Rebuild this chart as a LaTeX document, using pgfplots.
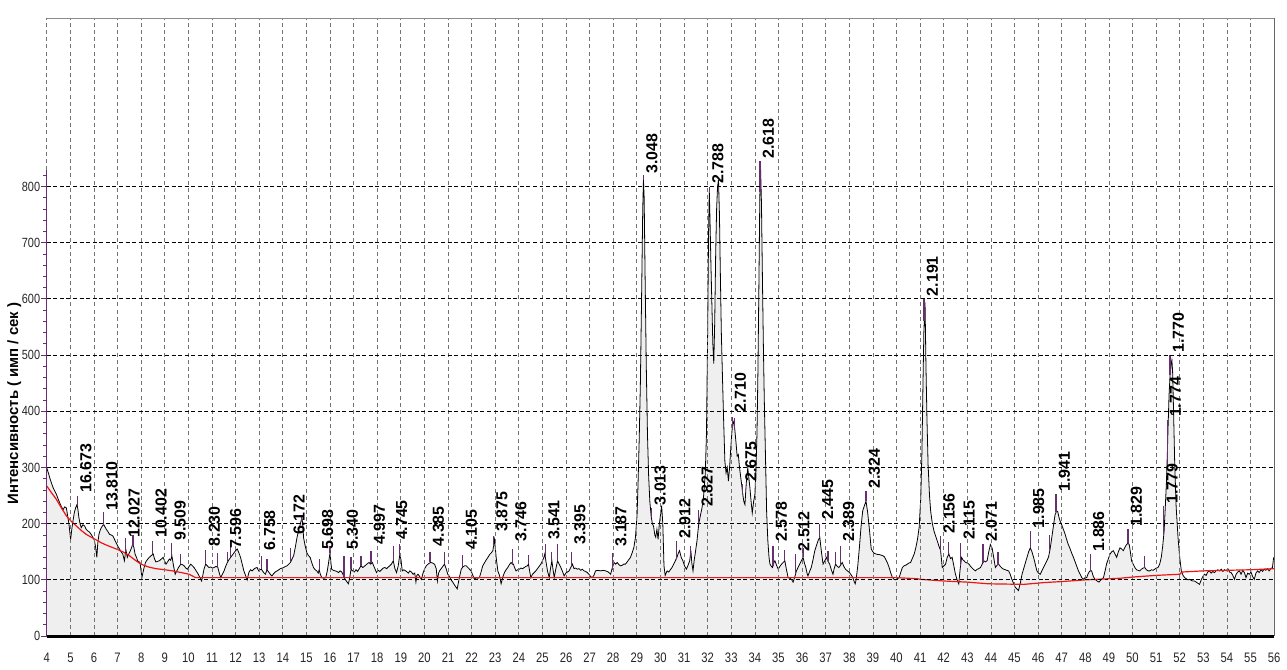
\documentclass[border=0pt]{standalone}
\usepackage{fontspec}
\setmainfont{Liberation Sans}
\newfontfamily\narrowfont[FakeStretch=0.82]{Liberation Sans}
\usepackage{pgfplots}
\usepackage{pgfplotstable}
\pgfplotsset{compat=1.18}

\definecolor{fillgray}{RGB}{239,239,239}
\definecolor{tickpurple}{RGB}{104,46,112}
\definecolor{basered}{RGB}{238,20,20}

% measured spectrum: 2theta, counts
\pgfplotstableread{
x y
4.00 299
4.07 290
4.13 281
4.20 272
4.27 264
4.34 258
4.41 252
4.48 244
4.55 237
4.62 230
4.69 225
4.76 230
4.83 228
4.88 215
4.94 199
5.01 172
5.06 190
5.11 205
5.17 220
5.22 228
5.28 234
5.32 225
5.36 211
5.41 200
5.46 193
5.53 198
5.60 196
5.67 190
5.74 187
5.81 185
5.88 181
5.95 176
6.02 170
6.07 158
6.12 140
6.16 165
6.21 181
6.26 188
6.31 193
6.36 196
6.41 199
6.47 194
6.52 190
6.59 186
6.66 181
6.73 180
6.80 178
6.87 172
6.94 166
7.01 160
7.08 155
7.15 150
7.22 146
7.29 134
7.33 148
7.36 152
7.41 140
7.47 146
7.52 150
7.57 155
7.64 163
7.69 158
7.74 146
7.80 140
7.85 134
7.95 131
8.03 104
8.10 118
8.18 131
8.26 136
8.34 140
8.42 143
8.51 146
8.56 138
8.62 132
8.70 133
8.77 134
8.85 137
8.93 140
9.00 133
9.05 128
9.12 132
9.19 137
9.25 135
9.30 143
9.37 125
9.44 110
9.51 116
9.58 122
9.63 125
9.68 128
9.75 127
9.82 125
9.89 121
9.96 119
10.03 124
10.10 128
10.17 125
10.24 122
10.33 116
10.42 110
10.49 104
10.56 98
10.61 108
10.66 119
10.73 128
10.80 125
10.87 122
10.95 123
11.02 121
11.09 122
11.17 124
11.25 122
11.31 112
11.37 104
11.44 110
11.51 116
11.58 124
11.65 131
11.72 136
11.79 140
11.86 144
11.93 148
12.00 152
12.07 155
12.14 148
12.21 140
12.28 128
12.35 116
12.42 108
12.49 100
12.56 113
12.63 118
12.70 116
12.77 119
12.84 121
12.91 122
12.98 116
13.04 118
13.09 119
13.14 116
13.19 113
13.26 110
13.33 118
13.40 114
13.47 110
13.54 107
13.61 111
13.68 114
13.76 116
13.83 118
13.90 120
13.97 121
14.04 122
14.11 124
14.18 125
14.25 128
14.32 131
14.39 137
14.46 143
14.53 158
14.60 175
14.67 188
14.74 199
14.81 211
14.85 196
14.88 175
14.95 160
15.02 148
15.09 143
15.16 140
15.23 130
15.30 122
15.37 118
15.44 116
15.50 112
15.54 118
15.59 110
15.65 104
15.74 103
15.82 104
15.88 115
15.93 128
16.00 148
16.04 130
16.07 119
16.14 117
16.22 116
16.29 115
16.36 113
16.43 116
16.50 114
16.57 108
16.64 101
16.71 97
16.78 93
16.84 105
16.89 119
16.96 116
17.03 114
17.10 118
17.17 115
17.24 120
17.31 125
17.39 122
17.48 125
17.56 128
17.65 131
17.72 128
17.79 131
17.88 122
17.97 113
18.04 117
18.11 115
18.18 118
18.25 121
18.32 122
18.40 120
18.47 123
18.53 125
18.60 128
18.68 134
18.75 120
18.82 113
18.89 125
18.96 146
19.01 135
19.06 116
19.13 118
19.24 115
19.32 112
19.38 116
19.45 114
19.52 110
19.59 112
19.64 96
19.68 108
19.73 110
19.80 106
19.87 101
19.94 112
20.01 120
20.08 125
20.15 128
20.26 131
20.34 130
20.43 128
20.50 120
20.55 98
20.60 112
20.64 116
20.71 120
20.78 124
20.85 128
20.92 120
20.99 110
21.06 106
21.13 100
21.20 96
21.29 90
21.39 84
21.46 100
21.56 119
21.63 123
21.70 125
21.77 125
21.84 122
21.91 119
21.98 116
22.05 108
22.12 101
22.19 104
22.26 103
22.33 104
22.40 114
22.47 125
22.54 130
22.61 135
22.69 140
22.76 145
22.83 148
22.90 152
22.97 172
23.04 140
23.11 116
23.18 108
23.25 93
23.32 105
23.39 113
23.46 118
23.53 122
23.60 127
23.67 131
23.73 128
23.77 128
23.82 122
23.88 116
23.95 118
24.02 119
24.09 121
24.16 120
24.23 122
24.30 124
24.36 125
24.41 128
24.46 115
24.51 104
24.58 110
24.65 113
24.72 116
24.79 120
24.86 124
24.93 128
25.00 134
25.06 140
25.10 146
25.16 130
25.22 115
25.29 104
25.34 120
25.40 134
25.45 118
25.50 104
25.56 118
25.64 134
25.71 128
25.78 122
25.85 115
25.92 107
25.99 112
26.06 114
26.13 116
26.20 122
26.27 128
26.34 120
26.41 121
26.48 119
26.55 120
26.62 117
26.69 119
26.76 116
26.83 115
26.90 113
26.97 110
27.04 106
27.11 104
27.18 108
27.25 116
27.35 117
27.46 116
27.57 117
27.68 116
27.79 114
27.89 110
27.95 120
28.03 131
28.10 128
28.17 131
28.24 127
28.31 125
28.38 126
28.45 128
28.52 128
28.59 132
28.66 136
28.73 140
28.80 148
28.87 157
28.94 175
29.01 216
29.05 270
29.10 350
29.15 450
29.20 600
29.25 760
29.28 812
29.31 780
29.35 640
29.40 480
29.45 360
29.50 285
29.55 240
29.61 212
29.66 200
29.71 195
29.76 180
29.80 176
29.85 190
29.90 172
29.95 198
30.00 215
30.05 232
30.10 200
30.15 125
30.20 108
30.28 116
30.35 114
30.42 118
30.49 122
30.56 128
30.63 134
30.70 140
30.76 148
30.81 152
30.88 140
30.95 134
31.02 125
31.10 119
31.17 126
31.24 134
31.29 152
31.33 130
31.38 116
31.43 135
31.47 146
31.55 170
31.62 199
31.69 214
31.76 228
31.83 250
31.90 290
31.95 360
32.00 540
32.04 720
32.07 792
32.10 740
32.14 660
32.18 590
32.22 520
32.26 485
32.30 560
32.34 680
32.38 760
32.42 800
32.46 812
32.50 750
32.54 640
32.58 540
32.63 458
32.68 380
32.73 311
32.78 290
32.83 300
32.88 276
32.93 300
32.98 335
33.03 365
33.07 378
33.11 382
33.15 368
33.20 345
33.25 320
33.30 323
33.35 300
33.40 283
33.44 270
33.49 252
33.53 240
33.58 234
33.62 262
33.65 280
33.70 299
33.75 280
33.79 264
33.84 240
33.89 219
33.95 240
34.00 251
34.05 300
34.09 360
34.13 470
34.17 620
34.21 780
34.24 836
34.28 770
34.32 640
34.36 520
34.40 420
34.45 320
34.50 220
34.55 170
34.60 140
34.64 128
34.70 124
34.75 122
34.80 130
34.85 134
34.92 126
34.99 119
35.06 124
35.13 128
35.20 131
35.27 134
35.34 118
35.41 104
35.48 103
35.55 101
35.62 96
35.69 105
35.76 116
35.83 122
35.90 128
35.97 134
36.04 140
36.10 130
36.16 122
36.21 112
36.25 107
36.32 115
36.39 122
36.46 135
36.54 152
36.61 161
36.68 170
36.75 176
36.82 150
36.89 128
36.96 134
37.03 140
37.10 133
37.17 128
37.24 118
37.31 110
37.36 120
37.42 128
37.49 124
37.56 122
37.63 126
37.70 131
37.77 124
37.84 119
37.92 116
38.01 113
38.08 109
38.15 104
38.20 98
38.25 93
38.29 100
38.36 125
38.43 158
38.50 195
38.57 223
38.64 232
38.71 240
38.78 220
38.86 187
38.93 155
39.00 150
39.07 147
39.14 146
39.21 145
39.28 145
39.35 144
39.42 143
39.49 141
39.55 136
39.62 130
39.69 122
39.76 112
39.83 104
39.90 101
39.97 100
40.04 102
40.11 104
40.18 113
40.25 122
40.32 125
40.39 126
40.46 128
40.53 130
40.60 131
40.67 138
40.75 146
40.82 157
40.89 172
40.96 193
41.03 246
41.08 330
41.12 440
41.16 540
41.21 594
41.25 480
41.29 390
41.34 305
41.40 250
41.45 222
41.52 200
41.59 187
41.66 178
41.73 169
41.80 160
41.87 152
41.94 122
42.01 125
42.08 128
42.15 140
42.22 146
42.29 138
42.36 140
42.43 125
42.50 110
42.57 100
42.64 93
42.70 120
42.76 140
42.81 136
42.86 134
42.93 131
43.00 130
43.07 128
43.14 124
43.21 121
43.28 118
43.35 116
43.42 119
43.49 120
43.56 122
43.63 128
43.70 134
43.77 132
43.84 134
43.91 150
43.98 163
44.05 157
44.12 140
44.19 122
44.26 126
44.33 128
44.40 124
44.47 121
44.54 119
44.61 118
44.68 117
44.75 116
44.82 110
44.89 101
44.96 94
45.03 87
45.10 84
45.17 81
45.25 95
45.32 110
45.39 120
45.46 130
45.53 140
45.60 150
45.67 157
45.74 150
45.81 140
45.88 128
45.95 116
46.02 112
46.09 110
46.16 116
46.23 122
46.30 128
46.37 134
46.44 140
46.51 155
46.58 175
46.65 196
46.72 216
46.78 222
46.83 222
46.88 212
46.93 205
47.00 198
47.07 190
47.14 182
47.21 172
47.28 163
47.35 156
47.42 148
47.50 140
47.57 132
47.64 124
47.71 116
47.78 110
47.85 104
47.92 101
47.99 104
48.06 104
48.13 112
48.20 116
48.27 116
48.34 106
48.41 101
48.50 98
48.58 96
48.66 100
48.77 104
48.84 116
48.90 128
48.98 138
49.05 146
49.12 150
49.19 152
49.26 146
49.33 140
49.40 150
49.47 157
49.54 155
49.61 152
49.68 158
49.75 163
49.81 165
49.86 163
49.91 150
49.96 134
50.03 128
50.10 122
50.17 118
50.24 117
50.31 116
50.38 119
50.45 121
50.52 122
50.59 118
50.66 116
50.73 116
50.80 118
50.87 117
50.94 119
51.01 121
51.08 122
51.15 128
51.22 140
51.28 160
51.34 187
51.39 230
51.44 275
51.48 330
51.51 376
51.55 430
51.60 470
51.64 485
51.67 491
51.70 470
51.74 400
51.79 305
51.85 230
51.93 175
52.00 140
52.07 116
52.14 108
52.21 104
52.28 102
52.35 100
52.42 101
52.49 99
52.56 98
52.63 98
52.70 96
52.77 94
52.84 92
52.91 100
52.98 106
53.05 110
53.12 108
53.19 114
53.26 116
53.33 112
53.40 115
53.47 113
53.54 116
53.61 118
53.69 116
53.76 119
53.83 115
53.90 118
53.97 116
54.04 120
54.11 114
54.18 113
54.25 108
54.32 101
54.39 110
54.46 114
54.53 116
54.60 110
54.67 117
54.74 113
54.81 104
54.88 112
54.95 110
55.02 114
55.09 106
55.16 101
55.23 112
55.30 116
55.37 113
55.44 118
55.51 115
55.58 119
55.65 117
55.72 120
55.79 116
55.86 120
55.93 122
55.98 140
}\spectrum

% background line
\pgfplotstableread{
x y
4.00 267
4.20 255
4.41 243
4.62 228
4.83 214
5.04 204
5.25 196
5.46 188
5.67 181
5.88 176
6.10 171
6.31 166
6.52 162
6.76 158
7.00 154
7.22 150
7.50 143
7.78 134
7.99 128
8.30 123
8.62 120
9.00 118
9.33 116
9.70 113
10.03 110
10.17 107
10.30 104
40.00 104
40.90 102
41.00 101
42.00 98
43.00 96
43.90 93
45.40 92
46.20 95
47.00 97
48.00 100
49.50 103
50.00 105
51.00 108
52.00 110
52.10 114
53.00 116
54.00 117
55.00 118
56.00 120
}\background

% peak markers: bottom and top of each stroke
\pgfplotstableread{
x y
5.30 232
5.30 250
nan nan
6.40 198
6.40 220
nan nan
7.34 150
7.34 175
nan nan
7.65 160
7.65 180
nan nan
8.49 146
8.49 170
nan nan
9.29 143
9.29 165
nan nan
9.68 128
9.68 146
nan nan
10.74 128
10.74 153
nan nan
11.25 122
11.25 148
nan nan
11.64 131
11.64 150
nan nan
11.80 140
11.80 160
nan nan
13.09 119
13.09 143
nan nan
13.33 118
13.33 138
nan nan
14.34 131
14.34 157
nan nan
14.78 205
14.78 215
nan nan
15.54 118
15.54 138
nan nan
16.00 148
16.00 160
nan nan
16.59 104
16.59 143
nan nan
16.89 119
16.89 140
nan nan
17.31 125
17.31 143
nan nan
17.74 130
17.74 152
nan nan
18.68 134
18.68 160
nan nan
18.96 146
18.96 163
nan nan
20.24 131
20.24 150
nan nan
20.85 128
20.85 150
nan nan
21.63 123
21.63 145
nan nan
22.93 160
22.93 178
nan nan
23.73 128
23.73 155
nan nan
24.41 128
24.41 145
nan nan
25.13 140
25.13 164
nan nan
25.40 134
25.40 150
nan nan
25.64 134
25.64 164
nan nan
26.23 125
26.23 150
nan nan
27.97 118
27.97 148
nan nan
29.28 812
29.28 820
nan nan
29.61 212
29.61 228
nan nan
30.68 138
30.68 170
nan nan
31.27 140
31.27 160
nan nan
31.62 199
31.62 225
nan nan
32.08 792
32.08 800
nan nan
33.05 370
33.05 390
nan nan
33.15 368
33.15 388
nan nan
33.49 252
33.49 270
nan nan
34.22 790
34.22 845
nan nan
34.77 124
34.77 160
nan nan
35.27 134
35.27 154
nan nan
35.72 110
35.72 146
nan nan
36.04 140
36.04 156
nan nan
36.73 174
36.73 200
nan nan
37.10 133
37.10 152
nan nan
37.42 128
37.42 150
nan nan
37.62 126
37.62 160
nan nan
38.71 240
38.71 258
nan nan
41.17 560
41.17 600
nan nan
41.87 152
41.87 178
nan nan
42.22 146
42.22 168
nan nan
42.72 125
42.72 166
nan nan
43.67 130
43.67 163
nan nan
44.30 127
44.30 150
nan nan
45.67 157
45.67 187
nan nan
46.50 153
46.50 180
nan nan
46.76 220
46.76 252
nan nan
48.21 116
48.21 146
nan nan
49.81 165
49.81 190
nan nan
50.52 122
50.52 143
nan nan
51.32 180
51.32 231
nan nan
51.47 300
51.47 385
nan nan
51.59 465
51.59 500
}\peakticks

% d-spacing labels: 2theta, bottom of label, text
\pgfplotstableread{
x y lab
5.30 250 16.673
6.40 219 13.810
7.34 170 12.027
8.49 170 10.402
9.29 165 9.509
10.74 155 8.230
11.64 150 7.596
13.09 148 6.758
14.34 175 6.172
15.54 149 5.698
16.59 149 5.340
17.74 158 4.997
18.68 166 4.745
20.24 155 4.385
21.63 149 4.105
22.93 181 3.875
23.73 163 3.746
25.13 166 3.541
26.23 158 3.395
27.97 155 3.187
29.28 818 3.048
29.63 228 3.013
30.68 169 2.912
31.62 225 2.827
32.08 800 2.788
33.03 393 2.710
33.47 270 2.675
34.22 845 2.618
34.77 163 2.578
35.72 146 2.512
36.73 202 2.445
37.62 163 2.389
38.71 258 2.324
41.17 600 2.191
41.87 178 2.156
42.72 166 2.115
43.67 163 2.071
45.67 187 1.985
46.76 252 1.941
48.21 146 1.886
49.81 190 1.829
51.32 231 1.779
51.47 385 1.774
51.59 500 1.770
}\peaklabels

\begin{document}
\begin{tikzpicture}
\begin{axis}[
    name=ax,
    scale only axis,
    width=616.5pt, height=310.5pt,
    xmin=4, xmax=56, ymin=0, ymax=1100,
    clip=false,
    axis on top,
    axis line style={draw=none},
    xtick={4,5,...,56},
    ytick={0,100,...,800},
    minor ytick={20,40,...,820},
    ytick pos=left, xtick pos=bottom,
    tick align=outside,
    major tick length=2.8pt, minor tick length=1.7pt,
    xtick style={draw=none},
    ytick style={tickpurple, line width=0.4pt},
    grid=major,
    x grid style={black!55, line width=0.35pt, dash pattern=on 2pt off 1.6pt},
    y grid style={black, line width=0.5pt, dash pattern=on 2pt off 1.3pt},
    /pgf/number format/assume math mode=true,
    xticklabel style={font=\narrowfont\fontsize{6.9}{7}\selectfont, text=black!85, yshift=-2pt},
    yticklabel style={font=\narrowfont\fontsize{6.7}{7}\selectfont, text=black!85, xshift=3pt},
    ylabel={Интенсивность ( имп / сек )},
    ylabel style={font=\bfseries\fontsize{7.5}{8}\selectfont,
        at={(axis description cs:-0.0265,0.376)}, anchor=center},
]
\addplot[draw=none, fill=fillgray, forget plot] table {\spectrum} \closedcycle;
\addplot[black, line width=0.4pt, forget plot] table {\spectrum};
\addplot[basered, line width=0.6pt, forget plot] table {\background};
\addplot[tickpurple, line width=0.6pt, unbounded coords=jump, forget plot] table {\peakticks};
\addplot[only marks, mark=none, forget plot,
    nodes near coords, point meta=explicit symbolic,
    nodes near coords style={font=\bfseries\fontsize{8}{8}\selectfont,
        text=black, rotate=90, anchor=north west, inner sep=1.2pt}]
    table[meta=lab] {\peaklabels};
\end{axis}
% frame of the plot area
\draw[black!45, line width=0.4pt] (0,310.5pt) -- (616.5pt,310.5pt);
\draw[black!60, line width=0.5pt] (616.5pt,0) -- (616.5pt,310.5pt);
\draw[tickpurple, line width=0.7pt] (0,0) -- (0,234.3pt);
\draw[black, line width=1.5pt] (0,0) -- (616.5pt,0);
\path (-23.5pt,-12.5pt) rectangle (620pt,319.5pt);
\end{tikzpicture}
\end{document}
